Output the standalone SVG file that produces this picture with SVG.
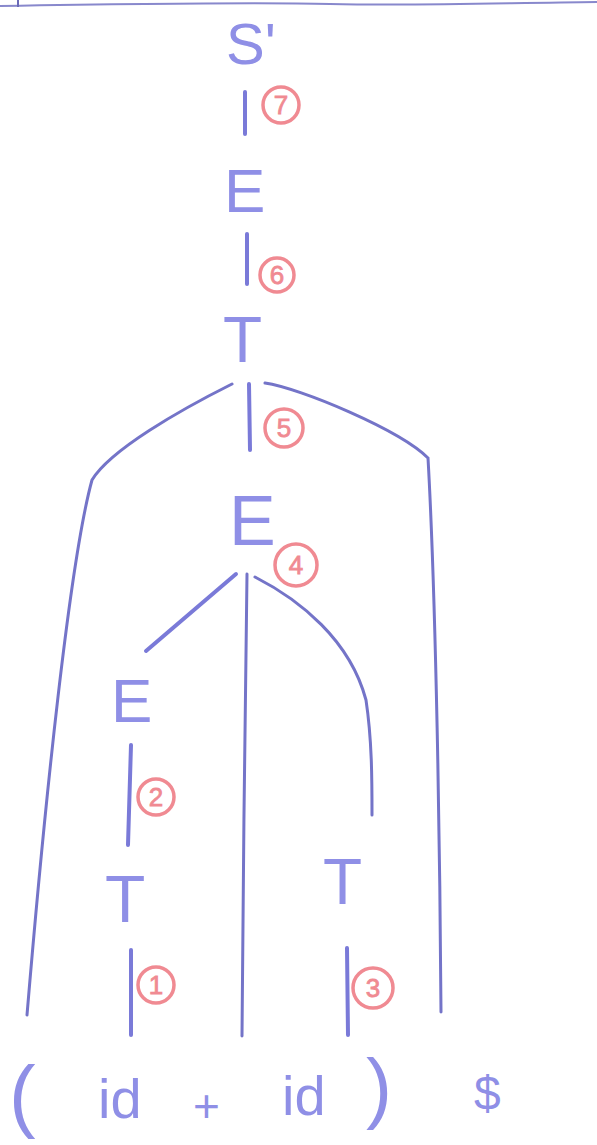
<svg xmlns="http://www.w3.org/2000/svg" width="597" height="1145" viewBox="0 0 597 1145">
<style>
.sym{font-family:"Liberation Sans","DejaVu Sans",sans-serif;fill:#8f8fe6;}
.num circle{fill:none;stroke:#f08a92;stroke-width:3.5;}
.num text{font-family:"Liberation Sans","DejaVu Sans",sans-serif;font-size:26px;fill:#f08a92;stroke:#f08a92;stroke-width:0.8;text-anchor:middle;}
.edge{fill:none;stroke:#7a7ad8;stroke-width:4;stroke-linecap:round;}
.curve{fill:none;stroke:#7474c8;stroke-width:3;stroke-linecap:round;}
</style>
<rect width="597" height="1145" fill="#ffffff"/>
<path d="M0,6 C120,4 250,2 330,4 C420,6 500,3 597,2" fill="none" stroke="#8888cc" stroke-width="2"/>
<line x1="18" y1="0" x2="18" y2="7" stroke="#6a6ab8" stroke-width="2"/>
<g id="connectors">
<line class="edge" x1="245" y1="92" x2="245" y2="134"/>
<line class="edge" x1="247" y1="234" x2="247" y2="284"/>
<line class="edge" x1="249" y1="384" x2="250" y2="450"/>
<path class="curve" d="M232,384 C180,410 110,450 92,480 C70,560 45,800 27,1015"/>
<path class="curve" d="M265,383 C300,388 400,430 428,458 C436,600 440,850 441,1012"/>
<path class="edge" d="M236,574 L146,651"/>
<path class="curve" d="M247,574 C245,700 243,900 242,1036"/>
<path class="curve" d="M255,577 C300,600 350,640 366,700 C372,740 372,780 372,815"/>
<line class="edge" x1="131" y1="745" x2="128" y2="845"/>
<line class="edge" x1="131" y1="950" x2="131" y2="1035"/>
<line class="edge" x1="347" y1="948" x2="348" y2="1035"/>
</g>
<g id="node-Sprime"><text class="sym" x="226" y="64" font-size="58">S'</text></g>
<g id="num-7" class="num"><circle cx="281" cy="105" r="18"/><text x="281" y="114">7</text></g>
<g id="node-E1"><text class="sym" x="224" y="212" font-size="62">E</text></g>
<g id="num-6" class="num"><circle cx="277" cy="275" r="17"/><text x="277" y="284">6</text></g>
<g id="node-T1"><text class="sym" x="223" y="362" font-size="64">T</text></g>
<g id="num-5" class="num"><circle cx="284" cy="428" r="19"/><text x="284" y="437">5</text></g>
<g id="node-E2"><text class="sym" x="229" y="545" font-size="70">E</text></g>
<g id="num-4" class="num"><circle cx="296" cy="565" r="21"/><text x="296" y="574">4</text></g>
<g id="node-E3"><text class="sym" x="111" y="722" font-size="62">E</text></g>
<g id="num-2" class="num"><circle cx="156" cy="797" r="18"/><text x="156" y="806">2</text></g>
<g id="node-T2"><text class="sym" x="105" y="922" font-size="66">T</text></g>
<g id="num-1" class="num"><circle cx="156" cy="985" r="18"/><text x="156" y="994">1</text></g>
<g id="node-T3"><text class="sym" x="323" y="904" font-size="64">T</text></g>
<g id="num-3" class="num"><circle cx="373" cy="988" r="20"/><text x="373" y="997">3</text></g>
<g id="tokens">
<text class="sym" x="9" y="1122" font-size="80">(</text>
<text class="sym" x="98" y="1118" font-size="56">id</text>
<text class="sym" x="193" y="1122" font-size="46">+</text>
<text class="sym" x="282" y="1115" font-size="56">id</text>
<text class="sym" x="366" y="1114" font-size="78">)</text>
<text class="sym" x="474" y="1110" font-size="48">$</text>
</g>
</svg>
